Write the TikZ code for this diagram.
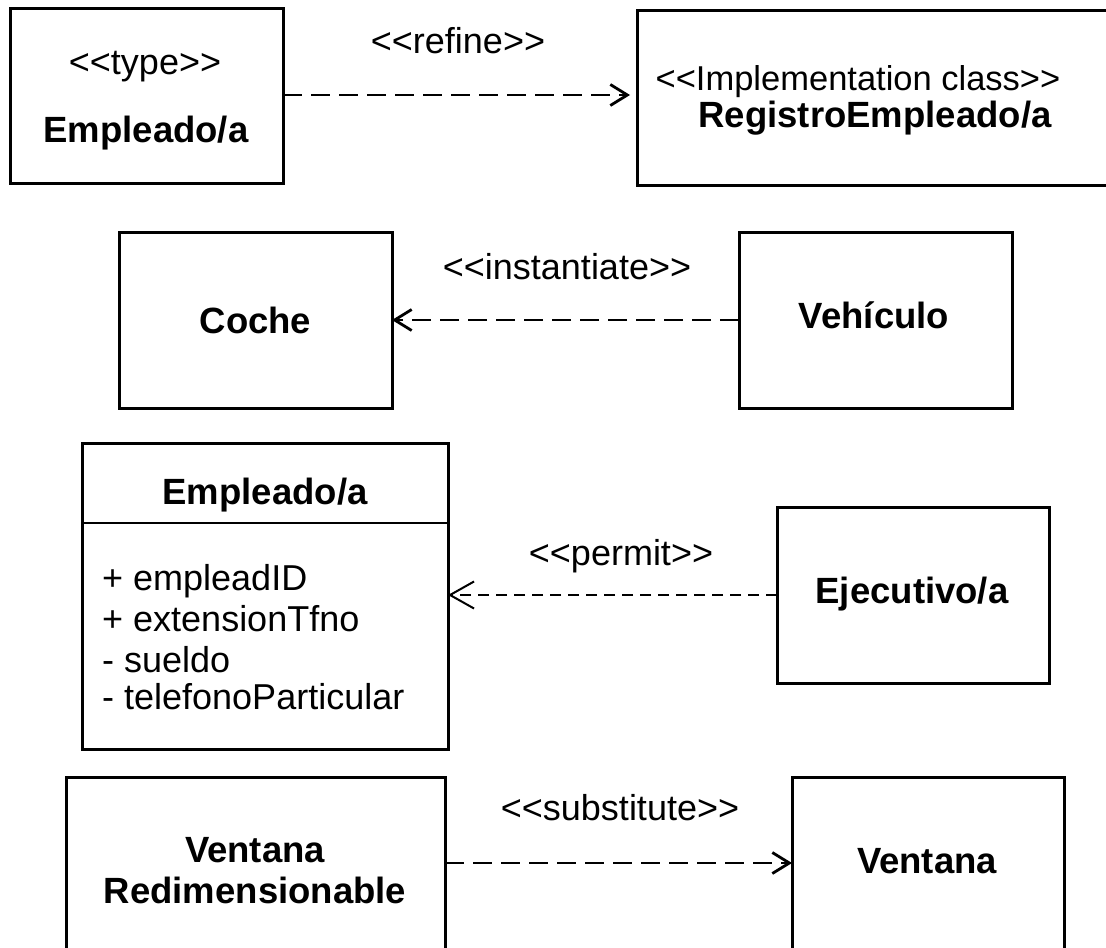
\documentclass[tikz,border=0pt]{standalone}
\usepackage{fontspec}
\setmainfont{Liberation Sans}
\usetikzlibrary{arrows.meta}
\newcommand{\stereo}[1]{<\kern0pt<#1>\kern0pt>}
\begin{document}
\begin{tikzpicture}[x=1pt,y=-1pt,
  box/.style={draw, line width=3pt, inner sep=0pt, outer sep=0pt},
  reg/.style={font=\fontsize{36}{42}\selectfont, anchor=base, inner sep=0pt},
  bld/.style={font=\fontsize{36.5}{42}\bfseries\selectfont, anchor=base, inner sep=0pt},
  dep/.style={line width=2.8pt, dash pattern=on 19pt off 9pt,
    -{Straight Barb[length=17pt,width=21pt,line width=2.8pt]}},
  depthin/.style={line width=2pt, dash pattern=on 11pt off 7pt,
    -{Straight Barb[length=24pt,width=27pt,line width=2pt]}}]
\useasboundingbox (0,0) rectangle (1106,948);
\clip (0,0) rectangle (1106,948);
% boxes
\node[box, minimum width=273pt, minimum height=175pt] (t1) at (146.5,95.5) {};
\node[box, minimum width=563pt, minimum height=175pt] (impl) at (918.5,97.5) {};
\node[box, minimum width=273pt, minimum height=176pt] (coche) at (255.5,320) {};
\node[box, minimum width=273pt, minimum height=176pt] (veh) at (875.5,320) {};
\node[box, minimum width=366pt, minimum height=306pt] (cls) at (265,596) {};
\node[box, minimum width=272pt, minimum height=176pt] (ej) at (913,595) {};
\node[box, minimum width=379pt, minimum height=223pt] (vr) at (255.5,888.5) {};
\node[box, minimum width=272pt, minimum height=223pt] (ven) at (928,888.5) {};
% class divider
\coordinate (dl) at (82,523);
\draw[line width=2pt] (dl -| cls.west) -- (dl -| cls.east);
% texts
\node[reg] (t1s) at (145,74) {\stereo{type}};
\node[bld] (t1n) at (146,142) {Empleado/a};
\node[reg, font=\fontsize{34.5}{40}\selectfont] (impls) at (858,90) {\stereo{Implementation class}};
\node[bld] (impln) at (875,127) {RegistroEmpleado/a};
\node[bld] (cochen) at (255.5,333) {Coche};
\node[bld] (vehn) at (874,328) {Vehículo};
\node[bld] (clsn) at (265,504) {Empleado/a};
\node[reg, anchor=base west] (a1) at (102,590) {+ empleadID};
\node[reg, anchor=base west] (a2) at (102,631) {+ extensionTfno};
\node[reg, anchor=base west] (a3) at (102,672) {- sueldo};
\node[reg, anchor=base west] (a4) at (102,709) {- telefonoParticular};
\node[bld] (ejn) at (912,603) {Ejecutivo/a};
\node[bld] (vrn1) at (255,862) {Ventana};
\node[bld] (vrn2) at (255,903) {Redimensionable};
\node[bld] (venn) at (927,873) {Ventana};
% labels
\node[reg] (l1) at (458,53) {\stereo{refine}};
\node[reg] (l2) at (567,279) {\stereo{instantiate}};
\node[reg] (l3) at (621,565) {\stereo{permit}};
\node[reg] (l4) at (620,820) {\stereo{substitute}};
% connectors
\coordinate (y1) at (0,95);
\coordinate (y4) at (0,863);
\draw[dep, shorten >=7pt] (t1.east |- y1) -- (impl.west |- y1);
\draw[dep] (veh.west) -- (coche.east);
\draw[depthin] (ej.west) -- (ej.west -| cls.east);
\draw[dep] (vr.east |- y4) -- (ven.west |- y4);
\end{tikzpicture}
\end{document}
